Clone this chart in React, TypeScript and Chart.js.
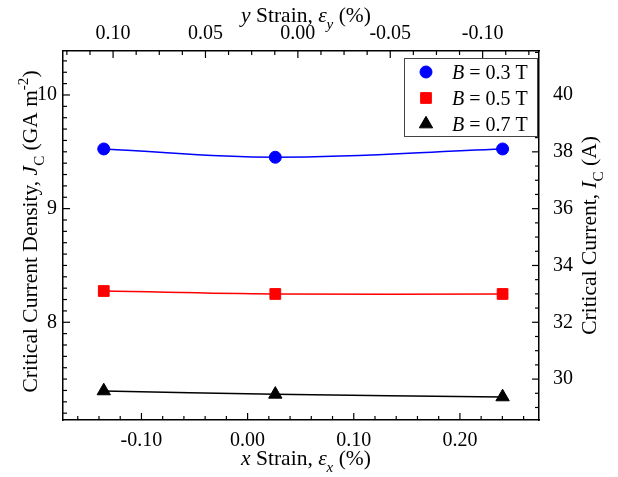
import React, { useEffect, useRef } from 'react';
import { Chart, registerables } from 'chart.js';
import { drawPoint } from 'chart.js/helpers';

Chart.register(...registerables);

// ---- data ----
const xStrain = [-0.1355, 0.0261, 0.2402];
const jcB03 = [9.525, 9.452, 9.525];
const jcB05 = [8.275, 8.249, 8.249];
const jcB07 = [7.396, 7.366, 7.343];
const fieldLabels = ['0.3', '0.5', '0.7'];

// ---- axes ----
const xStrainTicks = [-0.1, 0, 0.1, 0.2];
const yStrainTicks = [0.1, 0.05, 0, -0.05, -0.1];
const jcTicks = [8, 9, 10];
const icTicks = [30, 32, 34, 36, 38, 40];
const xRange = [-0.1739, 0.2745];
const yStrainRange = [-0.1305, 0.1271];
const jcRange = [7.14, 10.387];
const icRange = [28.56, 41.55];

const FONT = '"Liberation Serif", "Times New Roman", Times, serif';

const majors: Record<string, number[]> = { x: xStrainTicks, x2: yStrainTicks, y: jcTicks, y2: icTicks };
const minorStep: Record<string, number> = { x: 0.02, x2: 0.0125, y: 0.1, y2: 0.5 };

const isMajor = (id: string, v: number) => majors[id].some((m) => Math.abs(m - v) < 1e-6);

const buildTicks = (id: string) => (scale: any) => {
  const step = minorStep[id];
  const lo = Math.min(scale.min, scale.max);
  const hi = Math.max(scale.min, scale.max);
  const out: any[] = [];
  for (let k = Math.ceil(lo / step - 1e-9); k * step <= hi + 1e-9; k++) {
    out.push({ value: Math.round(k * step * 1e6) / 1e6 });
  }
  scale.ticks = out;
};

const fmt = (id: string, digits: number) => (v: any) => {
  const n = Number(v);
  if (!isMajor(id, n)) return '';
  const r = Math.abs(n) < 1e-9 ? 0 : n;
  return r.toFixed(digits);
};

type Seg = { t: string; it?: boolean; sub?: boolean; sup?: boolean };

function segFont(s: Seg, size: number) {
  const sz = s.sub || s.sup ? size * 0.7 : size;
  return `${s.it ? 'italic ' : ''}${sz}px ${FONT}`;
}

function drawRich(ctx: CanvasRenderingContext2D, segs: Seg[], x: number, y: number, size: number, align = 'center', rot = 0) {
  ctx.save();
  ctx.translate(x, y);
  ctx.rotate(rot);
  let total = 0;
  const widths = segs.map((s) => {
    ctx.font = segFont(s, size);
    const w = ctx.measureText(s.t).width;
    total += w;
    return w;
  });
  let cx = align === 'center' ? -total / 2 : 0;
  ctx.textBaseline = 'alphabetic';
  ctx.textAlign = 'left';
  ctx.fillStyle = '#000';
  const base = size * 0.33;
  segs.forEach((s, i) => {
    ctx.font = segFont(s, size);
    const dy = s.sub ? size * 0.3 : s.sup ? -size * 0.42 : 0;
    ctx.fillText(s.t, cx, base + dy);
    cx += widths[i];
  });
  ctx.restore();
}

const TITLE = 21.5;

const overlay = {
  id: 'overlay',
  afterDraw(chart: any) {
    const ctx: CanvasRenderingContext2D = chart.ctx;
    const { left, right, top, bottom } = chart.chartArea;
    // inward tick marks
    ctx.save();
    ctx.strokeStyle = '#000';
    ctx.lineWidth = 1.2;
    const sides: [string, string][] = [['x', 'bottom'], ['x2', 'top'], ['y', 'left'], ['y2', 'right']];
    sides.forEach(([id, side]) => {
      const sc = chart.scales[id];
      sc.ticks.forEach((t: any) => {
        const p = sc.getPixelForValue(t.value);
        const len = isMajor(id, t.value) ? 7 : 4;
        ctx.beginPath();
        if (side === 'bottom') { ctx.moveTo(p, bottom); ctx.lineTo(p, bottom - len); }
        if (side === 'top') { ctx.moveTo(p, top); ctx.lineTo(p, top + len); }
        if (side === 'left') { ctx.moveTo(left, p); ctx.lineTo(left + len, p); }
        if (side === 'right') { ctx.moveTo(right, p); ctx.lineTo(right - len, p); }
        ctx.stroke();
      });
    });
    ctx.restore();

    // axis titles
    const midY = (top + bottom) / 2;
    const midX = (left + right) / 2 + 5;
    drawRich(ctx, [{ t: 'x', it: true }, { t: ' Strain, ' }, { t: 'ε', it: true }, { t: 'x', it: true, sub: true }, { t: ' (%)' }], midX, bottom + 38, TITLE);
    drawRich(ctx, [{ t: 'y', it: true }, { t: ' Strain, ' }, { t: 'ε', it: true }, { t: 'y', it: true, sub: true }, { t: ' (%)' }], midX, top - 36, TITLE);
    drawRich(ctx, [{ t: 'Critical Current Density, ' }, { t: 'J', it: true }, { t: 'C', sub: true }, { t: ' (GA m' }, { t: '-2', sup: true }, { t: ')' }], left - 33, midY - 4, TITLE, 'center', -Math.PI / 2);
    drawRich(ctx, [{ t: 'Critical Current, ' }, { t: 'I', it: true }, { t: 'C', sub: true }, { t: ' (A)' }], right + 50, midY, TITLE, 'center', -Math.PI / 2);

    // legend
    const bw = 133, bh = 78;
    const bx = right - 2 - bw, by = top + 7;
    ctx.save();
    ctx.fillStyle = '#fff';
    ctx.fillRect(bx, by, bw, bh);
    ctx.strokeStyle = '#444';
    ctx.lineWidth = 1;
    ctx.strokeRect(bx + 0.5, by + 0.5, bw, bh);
    chart.data.datasets.forEach((ds: any, i: number) => {
      const cy = by + 14 + i * 26;
      ctx.fillStyle = ds.backgroundColor;
      ctx.strokeStyle = ds.borderColor;
      drawPoint(ctx, { pointStyle: ds.pointStyle, radius: ds.pointRadius, rotation: 0, borderWidth: 1 } as any, bx + 22, cy);
      drawRich(ctx, [{ t: 'B', it: true }, { t: ' = ' + ds.label + ' T' }], bx + 48, cy, 20, 'left');
    });
    ctx.restore();
  },
};

const colors = ['#0000ff', '#ff0000', '#000000'];
const styles = ['circle', 'rect', 'triangle'];
const radii = [6, 7.6, 7.7];
const series = [jcB03, jcB05, jcB07];

export default function App() {
  const ref = useRef<HTMLCanvasElement>(null);
  useEffect(() => {
    if (!ref.current) return;
    Chart.defaults.font.family = FONT;
    Chart.defaults.font.size = 20;
    Chart.defaults.color = '#000';
    const borderOpt = { display: true, color: '#000', width: 1.5 };
    const gridOpt = { display: true, drawOnChartArea: false, drawTicks: false };
    const chart = new Chart(ref.current, {
      type: 'line',
      data: {
        datasets: series.map((s, i) => ({
          label: fieldLabels[i],
          data: xStrain.map((x, k) => ({ x, y: s[k] })),
          borderColor: colors[i],
          backgroundColor: colors[i],
          pointBackgroundColor: colors[i],
          pointBorderColor: colors[i],
          pointStyle: styles[i],
          pointRadius: radii[i],
          pointBorderWidth: 1,
          borderWidth: 1.5,
          tension: 0.4,
          xAxisID: 'x',
          yAxisID: 'y',
        })),
      },
      options: {
        animation: false,
        responsive: false,
        events: [],
        layout: { padding: 0 },
        plugins: { legend: { display: false }, tooltip: { enabled: false } },
        scales: {
          x: {
            type: 'linear', position: 'bottom', min: xRange[0], max: xRange[1],
            afterBuildTicks: buildTicks('x'), afterFit: (s: any) => { s.height = 57; },
            ticks: { callback: fmt('x', 2), autoSkip: false, maxRotation: 0, padding: 9, color: '#000' },
            grid: gridOpt, border: borderOpt,
          },
          x2: {
            type: 'linear', position: 'top', reverse: true, min: yStrainRange[0], max: yStrainRange[1],
            afterBuildTicks: buildTicks('x2'), afterFit: (s: any) => { s.height = 51; },
            ticks: { callback: fmt('x2', 2), autoSkip: false, maxRotation: 0, padding: 5, color: '#000' },
            grid: gridOpt, border: borderOpt,
          },
          y: {
            type: 'linear', position: 'left', min: jcRange[0], max: jcRange[1],
            afterBuildTicks: buildTicks('y'), afterFit: (s: any) => { s.width = 63; },
            ticks: { callback: fmt('y', 0), autoSkip: false, padding: 6, color: '#000' },
            grid: gridOpt, border: borderOpt,
          },
          y2: {
            type: 'linear', position: 'right', min: icRange[0], max: icRange[1],
            afterBuildTicks: buildTicks('y2'), afterFit: (s: any) => { s.width = 79; },
            ticks: { callback: fmt('y2', 0), autoSkip: false, padding: 14, color: '#000' },
            grid: gridOpt, border: borderOpt,
          },
        },
      } as any,
      plugins: [overlay],
    });
    return () => chart.destroy();
  }, []);
  return (
    <div style={{ position: 'fixed', left: 0, top: 0, width: 618, height: 477, background: '#fff' }}>
      <canvas ref={ref} width={618} height={477} style={{ display: 'block' }} />
    </div>
  );
}
